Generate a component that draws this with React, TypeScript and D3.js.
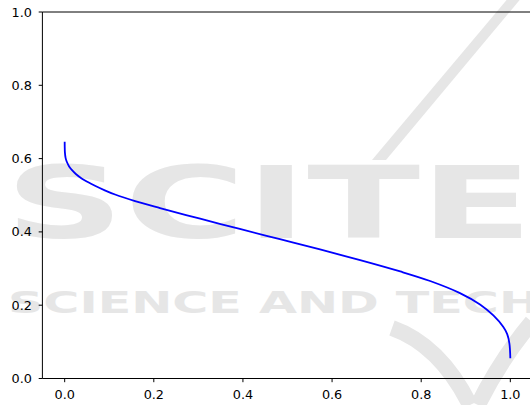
import React from "react";
import * as d3 from "d3";

const xValues = [0, 0.0001, 0.0005, 0.002, 0.0045, 0.008, 0.012, 0.016, 0.025, 0.038, 0.052, 0.068, 0.09, 0.113, 0.158, 0.214, 0.304, 0.393, 0.483, 0.573, 0.663, 0.753, 0.82, 0.887, 0.932, 0.962, 0.984, 0.993, 0.998, 1.0];
const yValues = [0.646, 0.632, 0.617, 0.602, 0.592, 0.583, 0.575, 0.569, 0.558, 0.546, 0.536, 0.526, 0.5135, 0.502, 0.484, 0.465, 0.436, 0.408, 0.38, 0.352, 0.323, 0.292, 0.266, 0.233, 0.202, 0.172, 0.141, 0.121, 0.095, 0.055];
const xTicks = [0, 0.2, 0.4, 0.6, 0.8, 1.0];
const yTicks = [0, 0.2, 0.4, 0.6, 0.8, 1.0];

export default function App() {
  const W = 530;
  const H = 405;
  const x = d3.scaleLinear().domain([-0.05, 1.05]).range([42.4, 532.6]);
  const y = d3.scaleLinear().domain([0, 1]).range([378.5, 12]);
  const pts: [number, number][] = xValues.map((v, i) => [v, yValues[i]]);
  const line = d3
    .line<[number, number]>()
    .x((d) => x(d[0]))
    .y((d) => y(d[1]))
    .curve(d3.curveCatmullRom.alpha(0.5));
  const font = "'DejaVu Sans', sans-serif";
  const wm = "#e6e6e6";
  const left = x(-0.05);
  const right = x(1.05);
  const top = y(1);
  const bottom = y(0);
  return (
    <svg
      width={W}
      height={H}
      style={{ position: "absolute", left: 0, top: 0, background: "#fff" }}
    >
      {/* watermark */}
      <g>
        <path d="M515,-10 L528,-10 L386,160 L372,160 Z" fill={wm} />
        <text
          x={5}
          y={238}
          fontFamily={font}
          fontWeight="bold"
          fontSize={100}
          fill={wm}
          textLength={528}
          lengthAdjust="spacingAndGlyphs"
        >
          SCITE
        </text>
        <text
          x={8}
          y={313}
          fontFamily={font}
          fontWeight="bold"
          fontSize={31}
          fill={wm}
          textLength={532}
          lengthAdjust="spacingAndGlyphs"
        >
          SCIENCE AND TECH
        </text>
        <path
          d="M392,328 Q440,345 470,405 M532,322 Q500,360 478,405"
          fill="none"
          stroke={wm}
          strokeWidth={16}
        />
      </g>
      {/* curve */}
      <path d={line(pts) || ""} fill="none" stroke="#0000ff" strokeWidth={1.8} />
      {/* spines */}
      <line x1={left} y1={top} x2={right} y2={top} stroke="#000" strokeWidth={1} />
      <line x1={left} y1={bottom} x2={right} y2={bottom} stroke="#000" strokeWidth={1} />
      <line x1={left} y1={top} x2={left} y2={bottom} stroke="#000" strokeWidth={1} />
      <line x1={right} y1={top} x2={right} y2={bottom} stroke="#000" strokeWidth={1} />
      {/* y ticks */}
      {yTicks.map((t) => (
        <g key={"y" + t}>
          <line x1={left - 3.7} x2={left} y1={y(t)} y2={y(t)} stroke="#000" strokeWidth={1} />
          <text
            x={left - 10.5}
            y={y(t)}
            textAnchor="end"
            dominantBaseline="central"
            fontFamily={font}
            fontSize={12.8}
            fill="#000"
          >
            {t.toFixed(1)}
          </text>
        </g>
      ))}
      {/* x ticks */}
      {xTicks.map((t) => (
        <g key={"x" + t}>
          <line x1={x(t)} x2={x(t)} y1={bottom} y2={bottom + 3.7} stroke="#000" strokeWidth={1} />
          <text
            x={x(t)}
            y={bottom + 16.2}
            textAnchor="middle"
            dominantBaseline="central"
            fontFamily={font}
            fontSize={12.8}
            fill="#000"
          >
            {t.toFixed(1)}
          </text>
        </g>
      ))}
    </svg>
  );
}
